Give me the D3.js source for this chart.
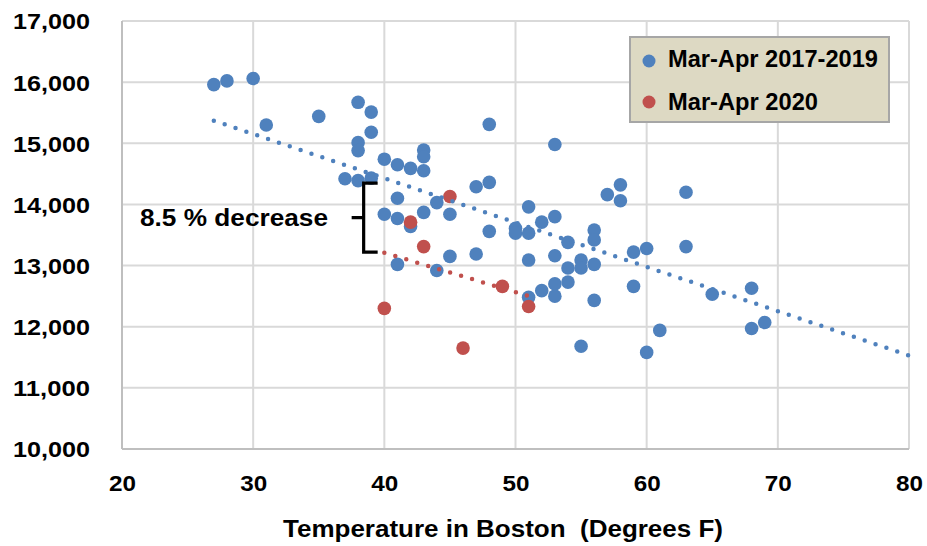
<!DOCTYPE html>
<html>
<head>
<meta charset="utf-8">
<script src="https://cdn.jsdelivr.net/npm/d3@7"></script>
<style>
  html, body { margin: 0; padding: 0; background: #fff; }
  text { font-family: "Liberation Sans", Arial, sans-serif; font-weight: bold; fill: #000; white-space: pre; }
</style>
</head>
<body>
<svg id="chart" width="927" height="546"></svg>
<script>
// ---- Data ----
const blueName = "Mar-Apr 2017-2019";
const redName = "Mar-Apr 2020";
const blueTemps = [27,28,30,31,35,37,38,38,38,38,39,39,39,40,40,41,41,41,41,42,42,43,43,43,43,44,44,45,45,47,47,48,48,48,50,50,51,51,51,51,52,52,53,53,53,53,53,54,54,54,55,55,55,56,56,56,56,57,58,58,59,59,60,60,61,63,63,65,68,68,69];
const blueValues = [15960,16020,16060,15300,15440,14420,15670,15010,14880,14390,15510,15180,14430,14740,13840,14650,14100,13770,13020,14590,13640,14890,14780,14550,13870,14030,12920,13840,13150,14290,13190,15310,14360,13560,13610,13530,13960,13530,13090,12480,13710,12590,14980,13800,13160,12700,12500,13380,12960,12730,13090,12960,11680,13580,13420,13020,12430,14160,14320,14060,13220,12660,13280,11580,11940,14200,13310,12530,12630,11970,12070];
const redTemps = [40,42,43,45,46,49,51];
const redValues = [12300,13710,13310,14130,11650,12660,12330];
// trendlines (linear at their end points)
const blueTrendTemps = [27, 80];
const blueTrendValues = [15370, 11530];
const redTrendTemps = [40, 51];
const redTrendValues = [13210, 12500];
const xTicks = [20,30,40,50,60,70,80];
const yTicks = [10000,11000,12000,13000,14000,15000,16000,17000];
const xTitle = "Temperature in Boston  (Degrees F)";
const annotation = "8.5 % decrease";
const braceTemp = 38.5;
const braceRange = [14350, 13220];

// ---- Layout ----
const svg = d3.select("#chart");
const x = d3.scaleLinear().domain([20, 80]).range([122, 909]);
const y = d3.scaleLinear().domain([10000, 17000]).range([449, 21]);
const blue = "#4F81BD", red = "#C0504D";

// gridlines
const g = svg.append("g");
g.selectAll(".vg").data(xTicks.slice(1)).join("line")
  .attr("x1", d => x(d)).attr("x2", d => x(d))
  .attr("y1", y(17000)).attr("y2", y(10000))
  .attr("stroke", "#D9D9D9").attr("stroke-width", 2);
g.selectAll(".hg").data(yTicks.slice(1)).join("line")
  .attr("x1", x(20)).attr("x2", x(80))
  .attr("y1", d => y(d)).attr("y2", d => y(d))
  .attr("stroke", "#D9D9D9").attr("stroke-width", 2);
// axis lines
g.append("line").attr("x1", x(20)).attr("x2", x(20)).attr("y1", y(17000)).attr("y2", y(10000))
  .attr("stroke", "#BFBFBF").attr("stroke-width", 2);
g.append("line").attr("x1", x(20)).attr("x2", x(80)).attr("y1", y(10000)).attr("y2", y(10000))
  .attr("stroke", "#BFBFBF").attr("stroke-width", 2);

// axes labels via d3 axes
const yAxis = d3.axisLeft(y).tickValues(yTicks).tickSize(0).tickFormat(d3.format(","));
const ya = svg.append("g").attr("transform", `translate(${x(20) - 32},0)`).call(yAxis);
ya.select(".domain").remove();
ya.selectAll("text").attr("font-size", 22).attr("dy", "0.36em").attr("x", 0)
  .attr("textLength", 77).attr("lengthAdjust", "spacingAndGlyphs")
  .style("font-family", "'Liberation Sans', Arial, sans-serif").style("font-weight", "bold");

const xAxis = d3.axisBottom(x).tickValues(xTicks).tickSize(0);
const xa = svg.append("g").attr("transform", `translate(0,${y(10000)})`).call(xAxis);
xa.select(".domain").remove();
xa.selectAll("text").attr("font-size", 22).attr("y", 42).attr("dy", 0)
  .attr("textLength", 27).attr("lengthAdjust", "spacingAndGlyphs")
  .style("font-family", "'Liberation Sans', Arial, sans-serif").style("font-weight", "bold");

// x title
svg.append("text").attr("x", 503).attr("y", 537).attr("text-anchor", "middle")
  .attr("xml:space", "preserve")
  .attr("font-size", 23).attr("textLength", 440).attr("lengthAdjust", "spacingAndGlyphs")
  .text(xTitle);

// points
const blueData = blueTemps.map((t, i) => ({t, v: blueValues[i]}));
const redData = redTemps.map((t, i) => ({t, v: redValues[i]}));
svg.append("g").selectAll("circle").data(blueData).join("circle")
  .attr("cx", d => x(d.t)).attr("cy", d => y(d.v)).attr("r", 6.8).attr("fill", blue);
svg.append("g").selectAll("circle").data(redData).join("circle")
  .attr("cx", d => x(d.t)).attr("cy", d => y(d.v)).attr("r", 6.8).attr("fill", red);

// trendlines
const line = d3.line().x(d => x(d[0])).y(d => y(d[1]));
svg.append("path").attr("d", line(blueTrendTemps.map((t, i) => [t, blueTrendValues[i]])))
  .attr("fill", "none").attr("stroke", blue).attr("stroke-width", 4.5)
  .attr("stroke-linecap", "round").attr("stroke-dasharray", "0 11.45");
svg.append("path").attr("d", line(redTrendTemps.map((t, i) => [t, redTrendValues[i]])))
  .attr("fill", "none").attr("stroke", red).attr("stroke-width", 4.5)
  .attr("stroke-linecap", "round").attr("stroke-dasharray", "0 11.45");

// brace annotation
const bx = x(braceTemp) - 1, bt = y(braceRange[0]), bb = y(braceRange[1]), bm = (bt + bb) / 2;
svg.append("path")
  .attr("d", `M${bx + 14},${bt} H${bx} V${bb} H${bx + 14} M${bx},${bm} H${bx - 12}`)
  .attr("fill", "none").attr("stroke", "#000").attr("stroke-width", 3.2);
svg.append("text").attr("x", 140).attr("y", 226).attr("font-size", 23)
  .attr("textLength", 188).attr("lengthAdjust", "spacingAndGlyphs").text(annotation);

// legend
const lg = svg.append("g");
lg.append("rect").attr("x", 630).attr("y", 37).attr("width", 259).attr("height", 85)
  .attr("fill", "#DDD9C3").attr("stroke", "#A6A6A6").attr("stroke-width", 2);
const items = [{name: blueName, color: blue, cy: 61, by: 67, w: 210},
               {name: redName, color: red, cy: 102, by: 110, w: 150}];
items.forEach(it => {
  lg.append("circle").attr("cx", 649).attr("cy", it.cy).attr("r", 6.5).attr("fill", it.color);
  lg.append("text").attr("x", 668).attr("y", it.by).attr("font-size", 23)
    .attr("textLength", it.w).attr("lengthAdjust", "spacingAndGlyphs").text(it.name);
});
</script>
</body>
</html>
